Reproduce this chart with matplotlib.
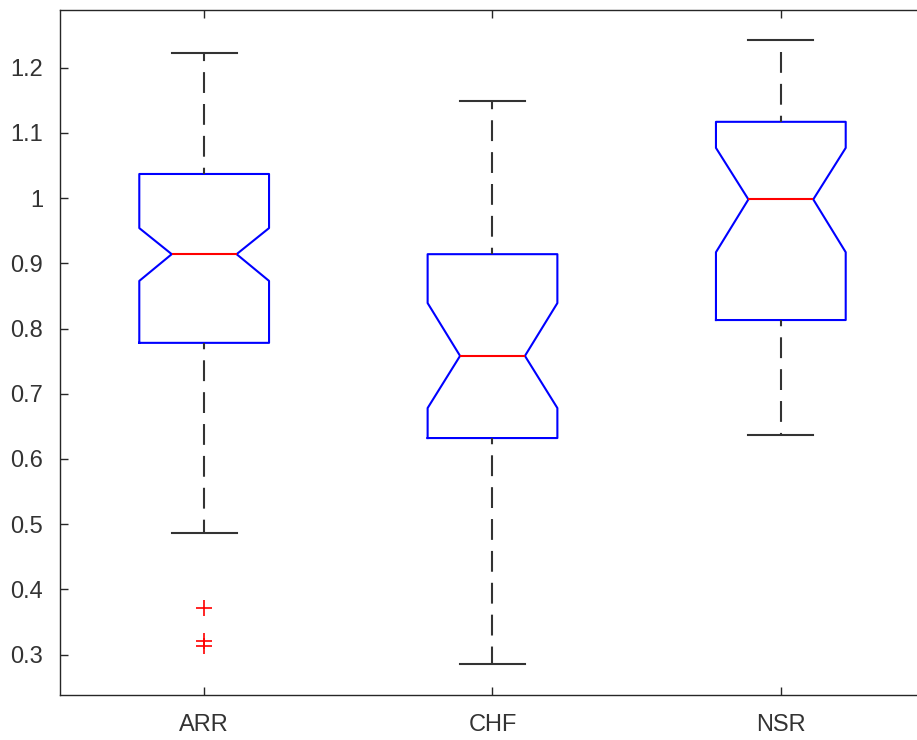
import matplotlib
matplotlib.use('Agg')
import matplotlib.pyplot as plt
from matplotlib.ticker import FormatStrFormatter

# summary values (notched boxes)
labels = ['ARR', 'CHF', 'NSR']
med = [0.914, 0.758, 0.998]
q1 = [0.778, 0.632, 0.813]
q3 = [1.037, 0.914, 1.117]
whislo = [0.487, 0.285, 0.637]
whishi = [1.2225, 1.149, 1.242]
cilo = [0.873, 0.678, 0.917]
cihi = [0.954, 0.839, 1.077]
fliers = [[0.372, 0.321, 0.313], [], []]

plt.rcParams['font.family'] = ['Liberation Sans', 'DejaVu Sans']

stats = []
for i in range(len(labels)):
    stats.append({'label': labels[i], 'med': med[i], 'q1': q1[i], 'q3': q3[i],
                  'whislo': whislo[i], 'whishi': whishi[i],
                  'cilo': cilo[i], 'cihi': cihi[i], 'fliers': fliers[i]})

fig = plt.figure(figsize=(9.17, 7.40), dpi=100)
ax = fig.add_axes([60 / 917, 45 / 740, 865 / 917, 685 / 740])

dark = '#262626'
ax.bxp(stats, positions=[1, 2, 3], widths=0.45, shownotches=True,
       boxprops=dict(color='#0000ff', linewidth=1.5),
       medianprops=dict(color='#ff0000', linewidth=1.5),
       whiskerprops=dict(color='#333333', linewidth=1.5, linestyle=(7, (10, 5.3))),
       capprops=dict(color='#333333', linewidth=1.5),
       flierprops=dict(marker='+', markeredgecolor='#ff0000', markersize=11.5,
                       markeredgewidth=1.2, linestyle='none'))

ax.set_xlim(0.5, 3.5)
ax.set_ylim(0.2379, 1.2885)
ax.set_yticks([0.3, 0.4, 0.5, 0.6, 0.7, 0.8, 0.9, 1.0, 1.1, 1.2])
ax.yaxis.set_major_formatter(FormatStrFormatter('%g'))
ax.set_xticks([1, 2, 3])
ax.set_xticklabels(labels)

for s in ax.spines.values():
    s.set_color(dark)
    s.set_linewidth(1.0)
ax.tick_params(direction='in', length=5.5, width=1.0, color=dark,
               labelcolor='#333333', labelsize=17, top=True, right=True)
ax.tick_params(axis='y', pad=12)
ax.tick_params(axis='x', pad=14)

fig.savefig('out.png', dpi=100)
